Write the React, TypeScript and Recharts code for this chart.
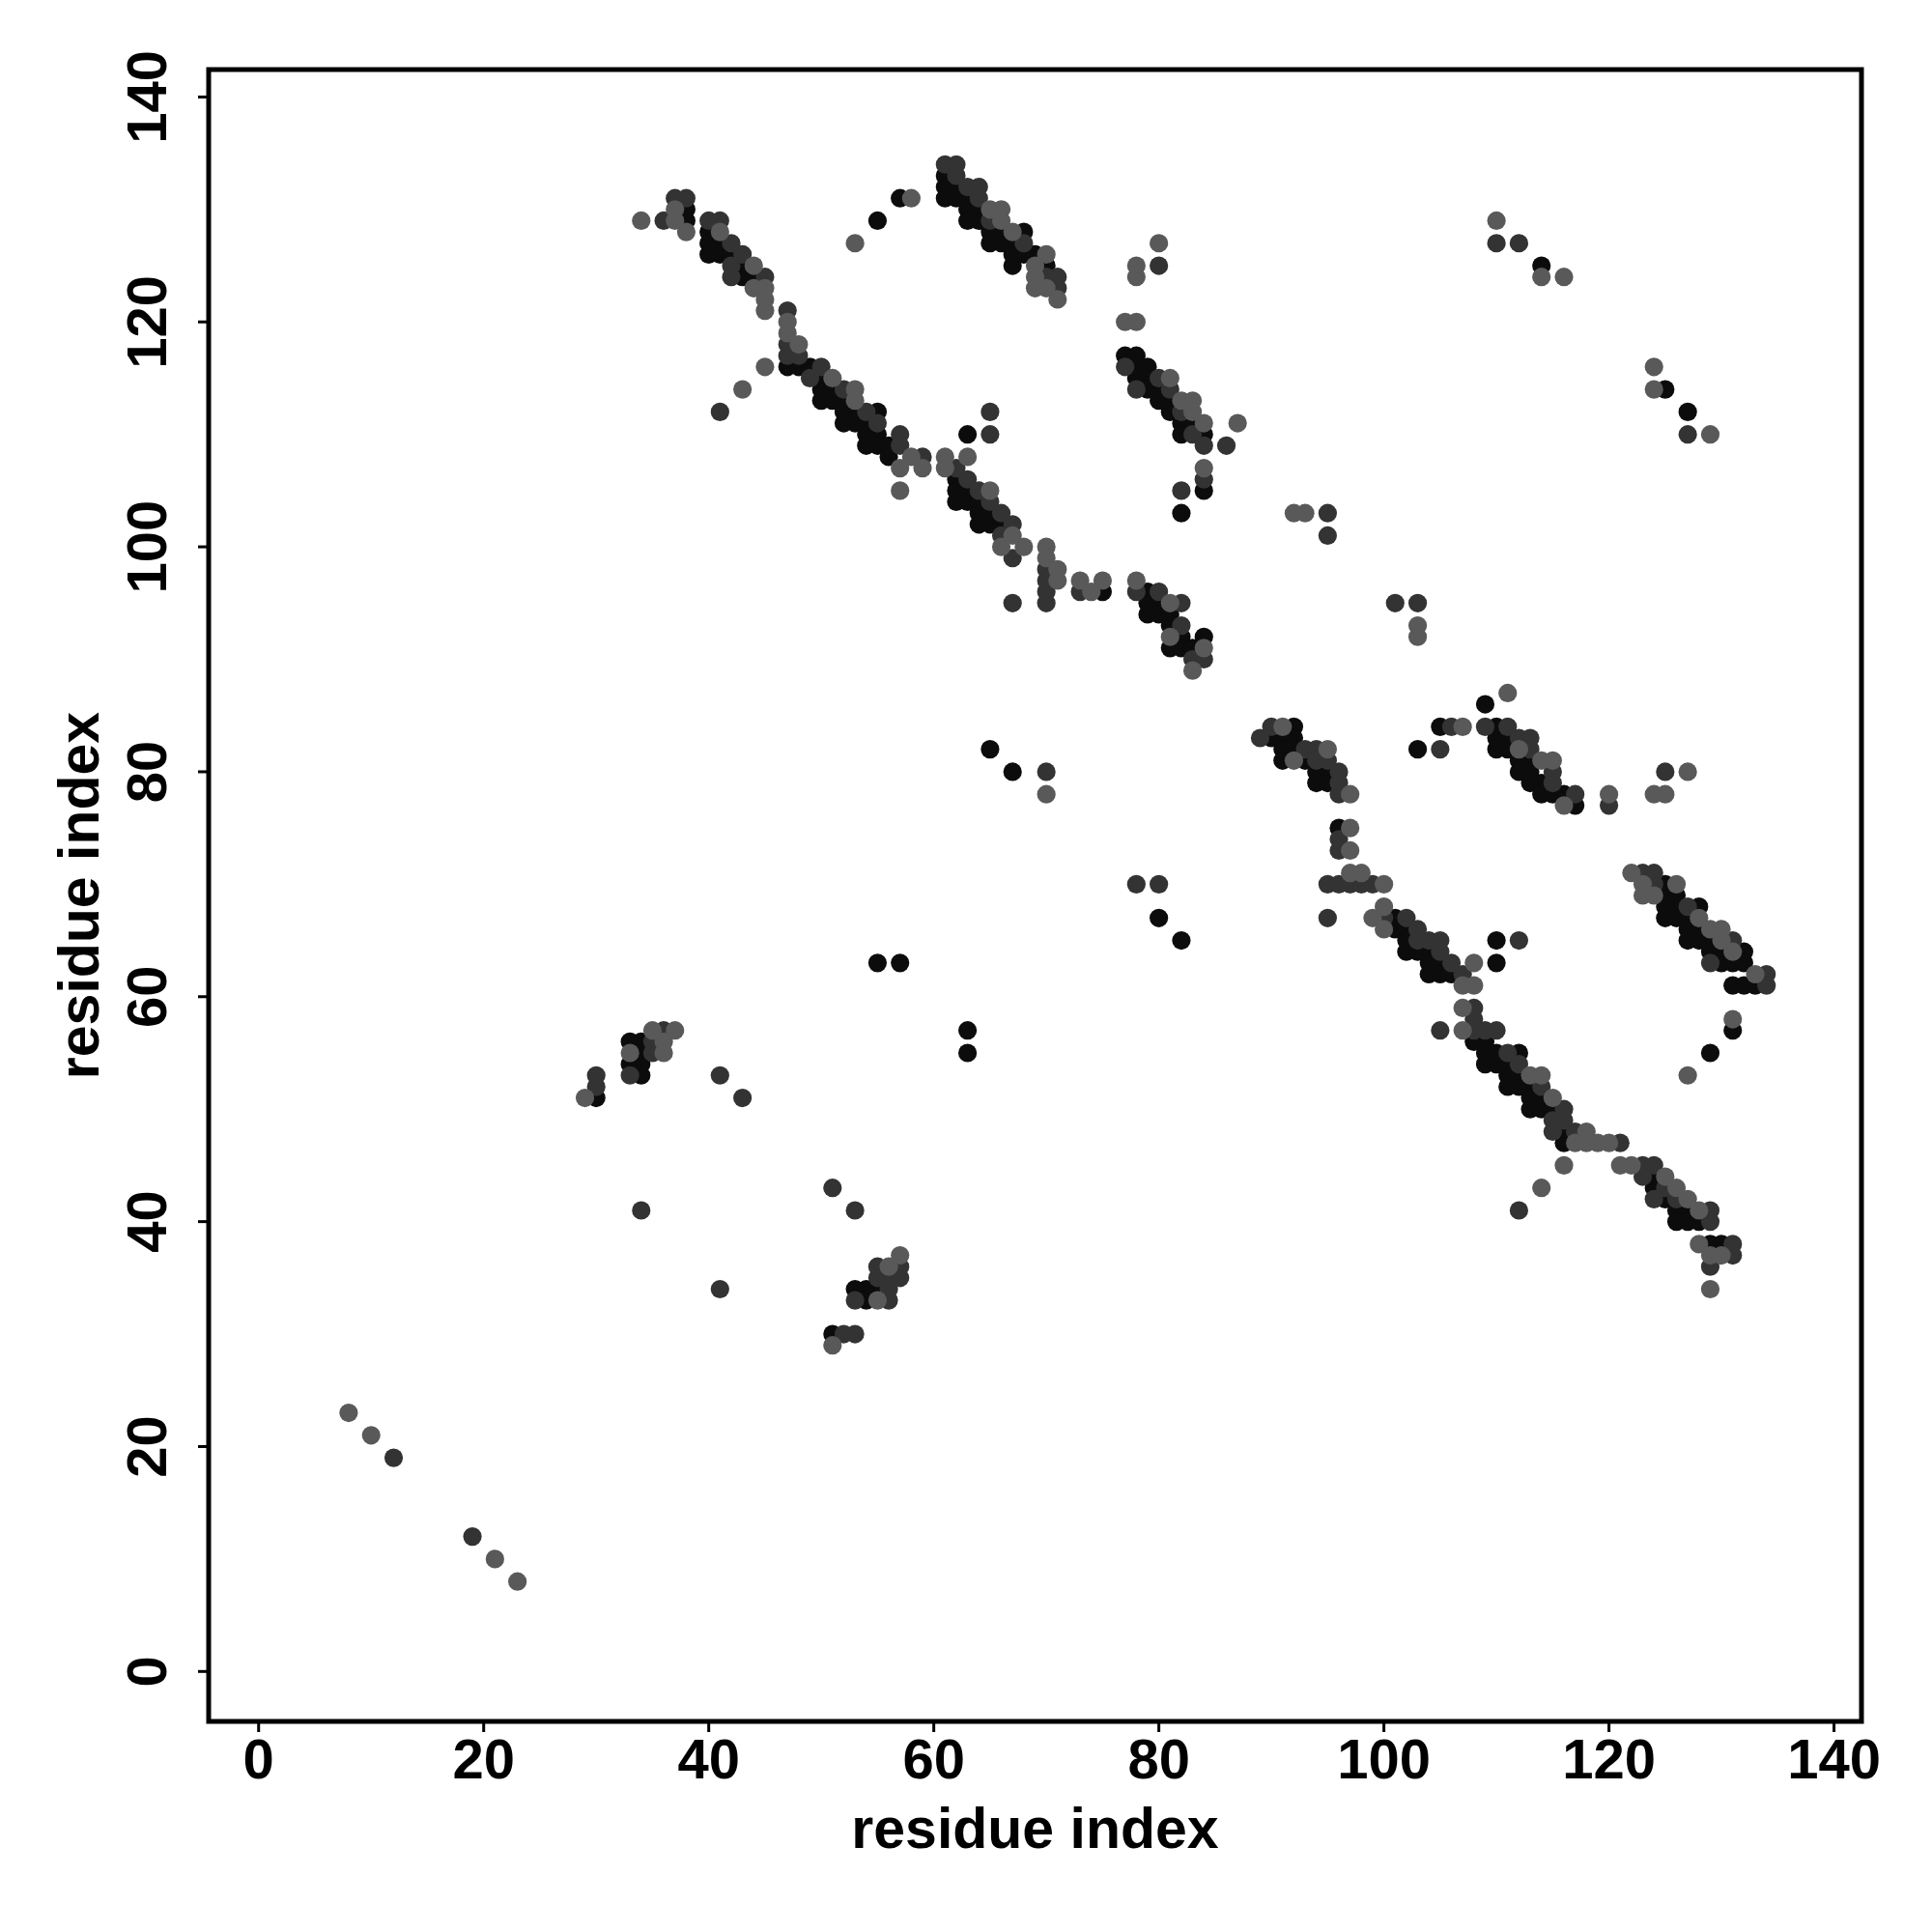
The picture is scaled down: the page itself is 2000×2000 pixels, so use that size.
import React from "react";
import { ScatterChart, Scatter, XAxis, YAxis, ReferenceArea } from "recharts";

// residue contact pairs [i, j], grouped by shading level
const strongContacts: [number, number][] = [
  [38,130],[38,129],[40,128],[40,127],[40,126],[41,127],[41,126],[42,126],[43,125],[43,124],[44,124],
  [47,116],[48,116],[49,116],[50,115],[50,114],[51,114],[50,113],[51,113],[52,113],[52,112],[53,112],[55,112],
  [52,111],[53,111],[54,111],[54,110],[55,110],[54,109],[55,109],[56,109],[56,108],[63,110],
  [62,106],[62,105],[62,104],[63,105],[63,104],[64,104],[64,103],[64,102],[65,103],[65,102],[66,102],[75,96],
  [79,96],[79,95],[80,95],[79,94],[80,94],[81,94],[81,93],[82,92],[84,92],[81,91],[82,91],[83,91],
  [77,117],[78,117],[78,116],[78,115],[79,116],[79,115],[79,114],[80,114],[80,113],[81,113],[81,112],[82,111],[83,111],[82,110],[84,110],
  [84,105],[82,103],
  [61,133],[61,132],[62,132],[61,131],[62,131],[63,131],[63,130],[64,130],[63,129],[64,129],[65,128],[65,127],[66,128],[66,127],[68,128],[67,127],[67,126],[67,125],[68,126],[69,126],[70,125],
  [92,84],[90,83],[91,83],[92,83],[91,82],[92,82],[91,81],[93,81],[94,80],[95,80],[94,79],[95,79],[96,75],
  [101,67],[101,66],[102,66],[102,65],[102,64],[103,64],[104,64],[104,63],[105,63],[104,62],[105,62],[106,62],
  [108,56],[109,56],[109,55],[110,55],[112,55],[109,54],[110,54],[111,54],[111,53],[112,53],[111,52],[112,52],[113,52],
  [113,51],[114,51],[113,50],[114,50],[115,50],[116,48],[116,47],[110,63],[110,65],
  [124,44],[124,43],[125,42],[126,41],[127,41],[126,40],[127,40],[128,40],[129,38],[130,38],
  [125,70],[125,69],[126,69],[125,68],[126,68],[128,68],[125,67],[126,67],[127,67],[127,66],[128,66],[127,65],[128,65],[129,65],
  [129,64],[130,64],[132,64],[130,63],[131,63],[132,63],[131,61],[132,61],[133,61],[131,57],[129,55],
  [110,84],[110,83],[111,83],[110,82],[111,82],[112,81],[113,81],[112,80],[113,80],[113,79],[114,79],[114,78],[115,78],[116,78],[117,77],
  [109,86],[105,84],[103,82],[65,82],[67,80],[80,67],[82,65],[114,125],[125,114],[127,112],[55,129],[57,131],
  [55,63],[57,63],[63,57],[63,55],[51,30],[53,34],[54,34],[55,34],[54,33],[30,51],[33,56],[34,56],[34,55],[33,54],[34,54],[34,53],
];

const mediumContacts: [number, number][] = [
  [36,129],[37,131],[38,131],[40,129],[41,129],[42,127],[42,125],[42,124],[43,126],[45,124],
  [47,121],[47,118],[47,117],[48,117],[50,116],[49,115],[52,114],[54,112],[55,111],[57,110],[57,109],[59,108],
  [65,110],[65,112],[62,107],
  [63,106],[64,105],[65,104],[66,103],[67,102],[66,101],[67,99],[67,95],[70,98],[70,97],[70,96],[70,95],[73,96],
  [80,96],[82,95],[82,93],[78,96],[83,90],[84,90],
  [77,116],[78,114],[80,115],[81,114],[82,112],[83,110],[84,109],[86,109],[80,125],[84,106],[82,105],
  [61,134],[62,134],[62,133],[63,132],[64,132],[64,131],[65,129],[68,127],[70,124],[71,124],[71,123],
  [89,83],[90,84],[93,82],[94,82],[94,81],[95,81],[96,80],[96,79],[96,78],
  [96,74],[96,73],[95,70],[96,70],[97,70],[98,70],[99,70],[95,67],
  [100,67],[102,67],[103,66],[103,65],[104,65],[105,65],[105,64],[106,63],[107,62],[108,59],[108,58],[108,57],[109,57],[110,57],
  [111,55],[112,54],[114,52],[116,50],[115,49],[116,49],[115,48],[117,48],[121,47],[112,65],[105,57],
  [123,45],[124,45],[123,44],[125,43],[124,42],[126,42],[129,41],[129,40],[131,38],[131,37],[129,36],
  [123,71],[124,71],[124,70],[127,68],[131,65],[129,63],[134,62],[134,61],
  [109,84],[111,84],[112,83],[113,83],[113,82],[115,80],[115,79],[117,78],[120,77],[125,80],
  [106,84],[105,82],[101,95],[103,95],[95,103],[95,101],[70,80],[78,70],[80,70],[110,127],[112,127],[127,110],[41,112],[112,41],
  [12,19],[19,12],[34,41],[41,53],[43,51],[41,34],[51,43],[53,41],[52,30],[53,30],[56,34],[53,33],[56,33],
  [55,35],[56,35],[57,35],[55,36],[57,36],[30,52],[30,53],[36,57],[35,56],[35,55],[33,53],
];

const weakContacts: [number, number][] = [
  [34,129],[37,130],[37,129],[38,128],[41,128],[44,125],[44,123],[45,123],[45,122],[45,121],
  [47,120],[47,119],[48,118],[51,115],[53,114],[53,113],[58,108],[57,107],[59,107],[57,105],
  [61,108],[63,108],[61,107],
  [65,105],[66,100],[67,101],[68,100],[70,100],[70,99],[71,98],[71,97],[73,97],[75,97],[74,96],
  [78,97],[81,95],[81,92],[84,91],[83,89],
  [81,115],[82,113],[83,113],[83,112],[84,111],[87,111],[77,120],[78,120],[78,125],[78,124],[80,127],[84,107],
  [65,130],[66,130],[66,129],[67,128],[70,126],[69,125],[69,124],[69,123],[70,123],[71,122],
  [91,84],[92,81],[95,82],[97,78],
  [97,75],[97,73],[97,71],[98,71],[100,70],
  [100,68],[99,67],[100,66],[108,63],[107,61],[108,61],[107,59],[107,57],[113,53],[114,53],[115,51],[118,48],[117,47],[118,47],[119,47],[120,47],
  [121,45],[122,45],[125,44],[126,43],[127,42],[128,41],[128,38],[129,37],[130,37],[129,34],
  [122,71],[123,70],[126,70],[123,69],[124,69],[128,67],[129,66],[130,66],[130,65],[131,64],[133,62],[131,58],[127,53],
  [112,82],[114,81],[115,81],[116,77],[120,78],[124,78],[125,78],[127,80],
  [111,87],[107,84],[103,93],[103,92],[92,103],[93,103],[70,78],[110,129],[114,124],[116,124],[124,116],[124,114],[129,110],
  [45,116],[43,114],[53,127],[58,131],[116,45],[114,43],
  [8,23],[10,21],[21,10],[23,8],[51,29],[55,33],[56,36],[57,37],[29,51],[35,57],[37,57],[36,56],[33,55],[36,55],
];

const axisTicks = [0, 20, 40, 60, 80, 100, 120, 140];
const axisTitle = "residue index";

const DOMAIN: [number, number] = [-4.44, 142.44];
const FONT = "'Liberation Sans', Arial, Helvetica, sans-serif";

const toPoints = (pairs: [number, number][]) => pairs.map(([x, y]) => ({ x, y }));

const dot = (fill: string) => (props: any) => (
  <circle cx={props.cx} cy={props.cy} r={9.6} fill={fill} />
);

const XTick = (props: any) => (
  <text x={props.x} y={props.y} dy={46} textAnchor="middle" fontSize={58} fontWeight="bold" fontFamily={FONT} fill="#000">
    {props.payload.value}
  </text>
);

const YTick = (props: any) => (
  <text
    transform={`translate(${props.x - 31},${props.y}) rotate(-90)`}
    textAnchor="middle"
    fontSize={58}
    fontWeight="bold"
    fontFamily={FONT}
    fill="#000"
  >
    {props.payload.value}
  </text>
);

export default function App() {
  return (
    <div style={{ position: "absolute", left: 0, top: 0, width: 2000, height: 2000, background: "#fff" }}>
      <ScatterChart width={2000} height={2000} margin={{ top: 72, right: 73, bottom: 68, left: 56 }}>
        <XAxis
          type="number"
          dataKey="x"
          domain={DOMAIN}
          allowDataOverflow
          ticks={axisTicks}
          interval={0}
          height={150}
          axisLine={false}
          tickSize={11}
          tickLine={{ stroke: "#000", strokeWidth: 3 }}
          tick={<XTick />}
          label={{
            content: (p: any) => (
              <text x={p.viewBox.x + p.viewBox.width / 2} y={p.viewBox.y + 131} textAnchor="middle" fontSize={59} fontWeight="bold" fontFamily={FONT} fill="#000">
                {axisTitle}
              </text>
            ),
          }}
        />
        <YAxis
          type="number"
          dataKey="y"
          domain={DOMAIN}
          allowDataOverflow
          ticks={axisTicks}
          interval={0}
          width={160}
          axisLine={false}
          tickSize={11}
          tickLine={{ stroke: "#000", strokeWidth: 3 }}
          tick={<YTick />}
          label={{
            content: (p: any) => (
              <text
                transform={`translate(${p.viewBox.x + 46},${p.viewBox.y + p.viewBox.height / 2}) rotate(-90)`}
                textAnchor="middle"
                fontSize={59}
                fontWeight="bold"
                fontFamily={FONT}
                fill="#000"
              >
                {axisTitle}
              </text>
            ),
          }}
        />
        <Scatter data={toPoints(strongContacts)} shape={dot("#0c0c0c")} isAnimationActive={false} />
        <Scatter data={toPoints(mediumContacts)} shape={dot("#333333")} isAnimationActive={false} />
        <Scatter data={toPoints(weakContacts)} shape={dot("#595959")} isAnimationActive={false} />
        <ReferenceArea x1={DOMAIN[0]} x2={DOMAIN[1]} y1={DOMAIN[0]} y2={DOMAIN[1]} fill="none" fillOpacity={0} stroke="#000" strokeWidth={5} ifOverflow="visible" />
      </ScatterChart>
    </div>
  );
}
